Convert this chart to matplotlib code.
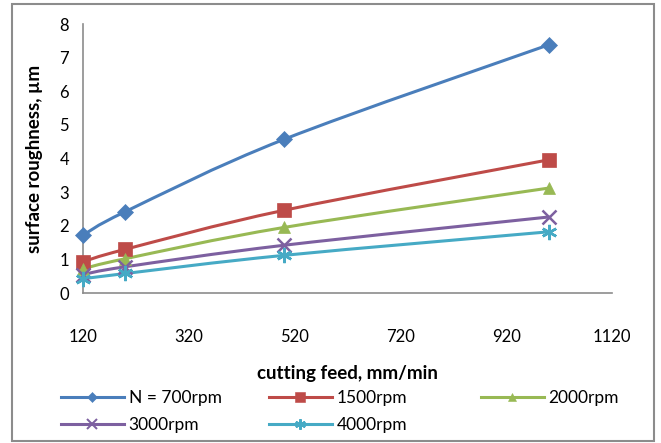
import matplotlib.pyplot as plt
from matplotlib.patches import Rectangle, PathPatch
from matplotlib.path import Path

plt.rcParams['font.family'] = ['Lato', 'DejaVu Sans']

# data
feed = [120, 200, 500, 1000]
rough_700 = [1.72, 2.42, 4.57, 7.38]
rough_1500 = [0.93, 1.30, 2.46, 3.96]
rough_2000 = [0.72, 1.02, 1.95, 3.12]
rough_3000 = [0.55, 0.78, 1.42, 2.26]
rough_4000 = [0.42, 0.58, 1.12, 1.82]
labels = ['N = 700rpm', '1500rpm', '2000rpm', '3000rpm', '4000rpm']
xticks = [120, 320, 520, 720, 920, 1120]
yticks = [0, 1, 2, 3, 4, 5, 6, 7, 8]


def smooth_path(xs, ys):
    # excel-style smoothed line: bezier segments through the points
    pts = list(zip(xs, ys))
    verts = [pts[0]]
    codes = [Path.MOVETO]
    n = len(pts)
    for i in range(n - 1):
        p0 = pts[max(i - 1, 0)]
        p1 = pts[i]
        p2 = pts[i + 1]
        p3 = pts[min(i + 2, n - 1)]
        c1 = (p1[0] + (p2[0] - p0[0]) / 6, p1[1] + (p2[1] - p0[1]) / 6)
        c2 = (p2[0] - (p3[0] - p1[0]) / 6, p2[1] - (p3[1] - p1[1]) / 6)
        verts += [c1, c2, p2]
        codes += [Path.CURVE4] * 3
    return Path(verts, codes)


fig = plt.figure(figsize=(6.61, 4.43), dpi=100)
ax = fig.add_axes([0.1256, 0.3386, 0.8004, 0.6072])

# frame around whole chart
fig.patches.append(Rectangle((12 / 661, 2 / 443), 642 / 661, 437 / 443,
                             transform=fig.transFigure, fill=False,
                             edgecolor='#8c8c8c', linewidth=1.5))

series = [rough_700, rough_1500, rough_2000, rough_3000, rough_4000]
colors = ['#4a7ebb', '#be4b48', '#98b954', '#7d60a0', '#46aac5']
markers = ['D', 's', '^', 'x', (6, 2, 0)]
msizes = [8, 10, 9, 10, 11]
handles = []
for ys, c, m, ms, lab in zip(series, colors, markers, msizes, labels):
    mew = 1.8 if m in ('x', (6, 2, 0)) else 0.5
    ax.add_patch(PathPatch(smooth_path(feed, ys), fill=False, edgecolor=c,
                           linewidth=2.2, clip_on=False, capstyle='round'))
    ax.plot(feed, ys, color=c, marker=m, markersize=ms, linestyle='none',
            markeredgewidth=mew, markeredgecolor=c, clip_on=False, zorder=3)
    # proxy for the legend: line plus marker
    proxy, = ax.plot([], [], color=c, marker=m, markersize=ms * 0.7,
                     linewidth=2.2, markeredgewidth=mew * 0.8,
                     markeredgecolor=c, label=lab)
    handles.append(proxy)

ax.set_xlim(120, 1120)
ax.set_ylim(0, 8)
ax.set_xticks(xticks)
ax.set_yticks(yticks)
ax.tick_params(axis='both', length=0, labelsize=12)
ax.tick_params(axis='x', pad=26)
ax.tick_params(axis='y', pad=10)
for s in ['top', 'right']:
    ax.spines[s].set_visible(False)
for s in ['left', 'bottom']:
    ax.spines[s].set_color('#8c8c8c')
    ax.spines[s].set_linewidth(1.2)

ax.set_xlabel('cutting feed, mm/min', fontsize=13.5, fontweight='bold', labelpad=14)
ax.set_ylabel('surface roughness, µm', fontsize=13.5, fontweight='bold', labelpad=12)

# legend, row-major layout done as three columns
cols = [[0, 3], [1, 4], [2]]
xs = [61, 269, 481]
for idx, x0 in zip(cols, xs):
    fig.legend([handles[i] for i in idx], [labels[i] for i in idx],
               loc='upper left', bbox_to_anchor=(x0 / 661, 1 - 390 / 443),
               frameon=False, fontsize=12.5, handlelength=3.6,
               handletextpad=0.3, labelspacing=0.62, borderaxespad=0,
               borderpad=0)

fig.savefig('out.png', dpi=100)
